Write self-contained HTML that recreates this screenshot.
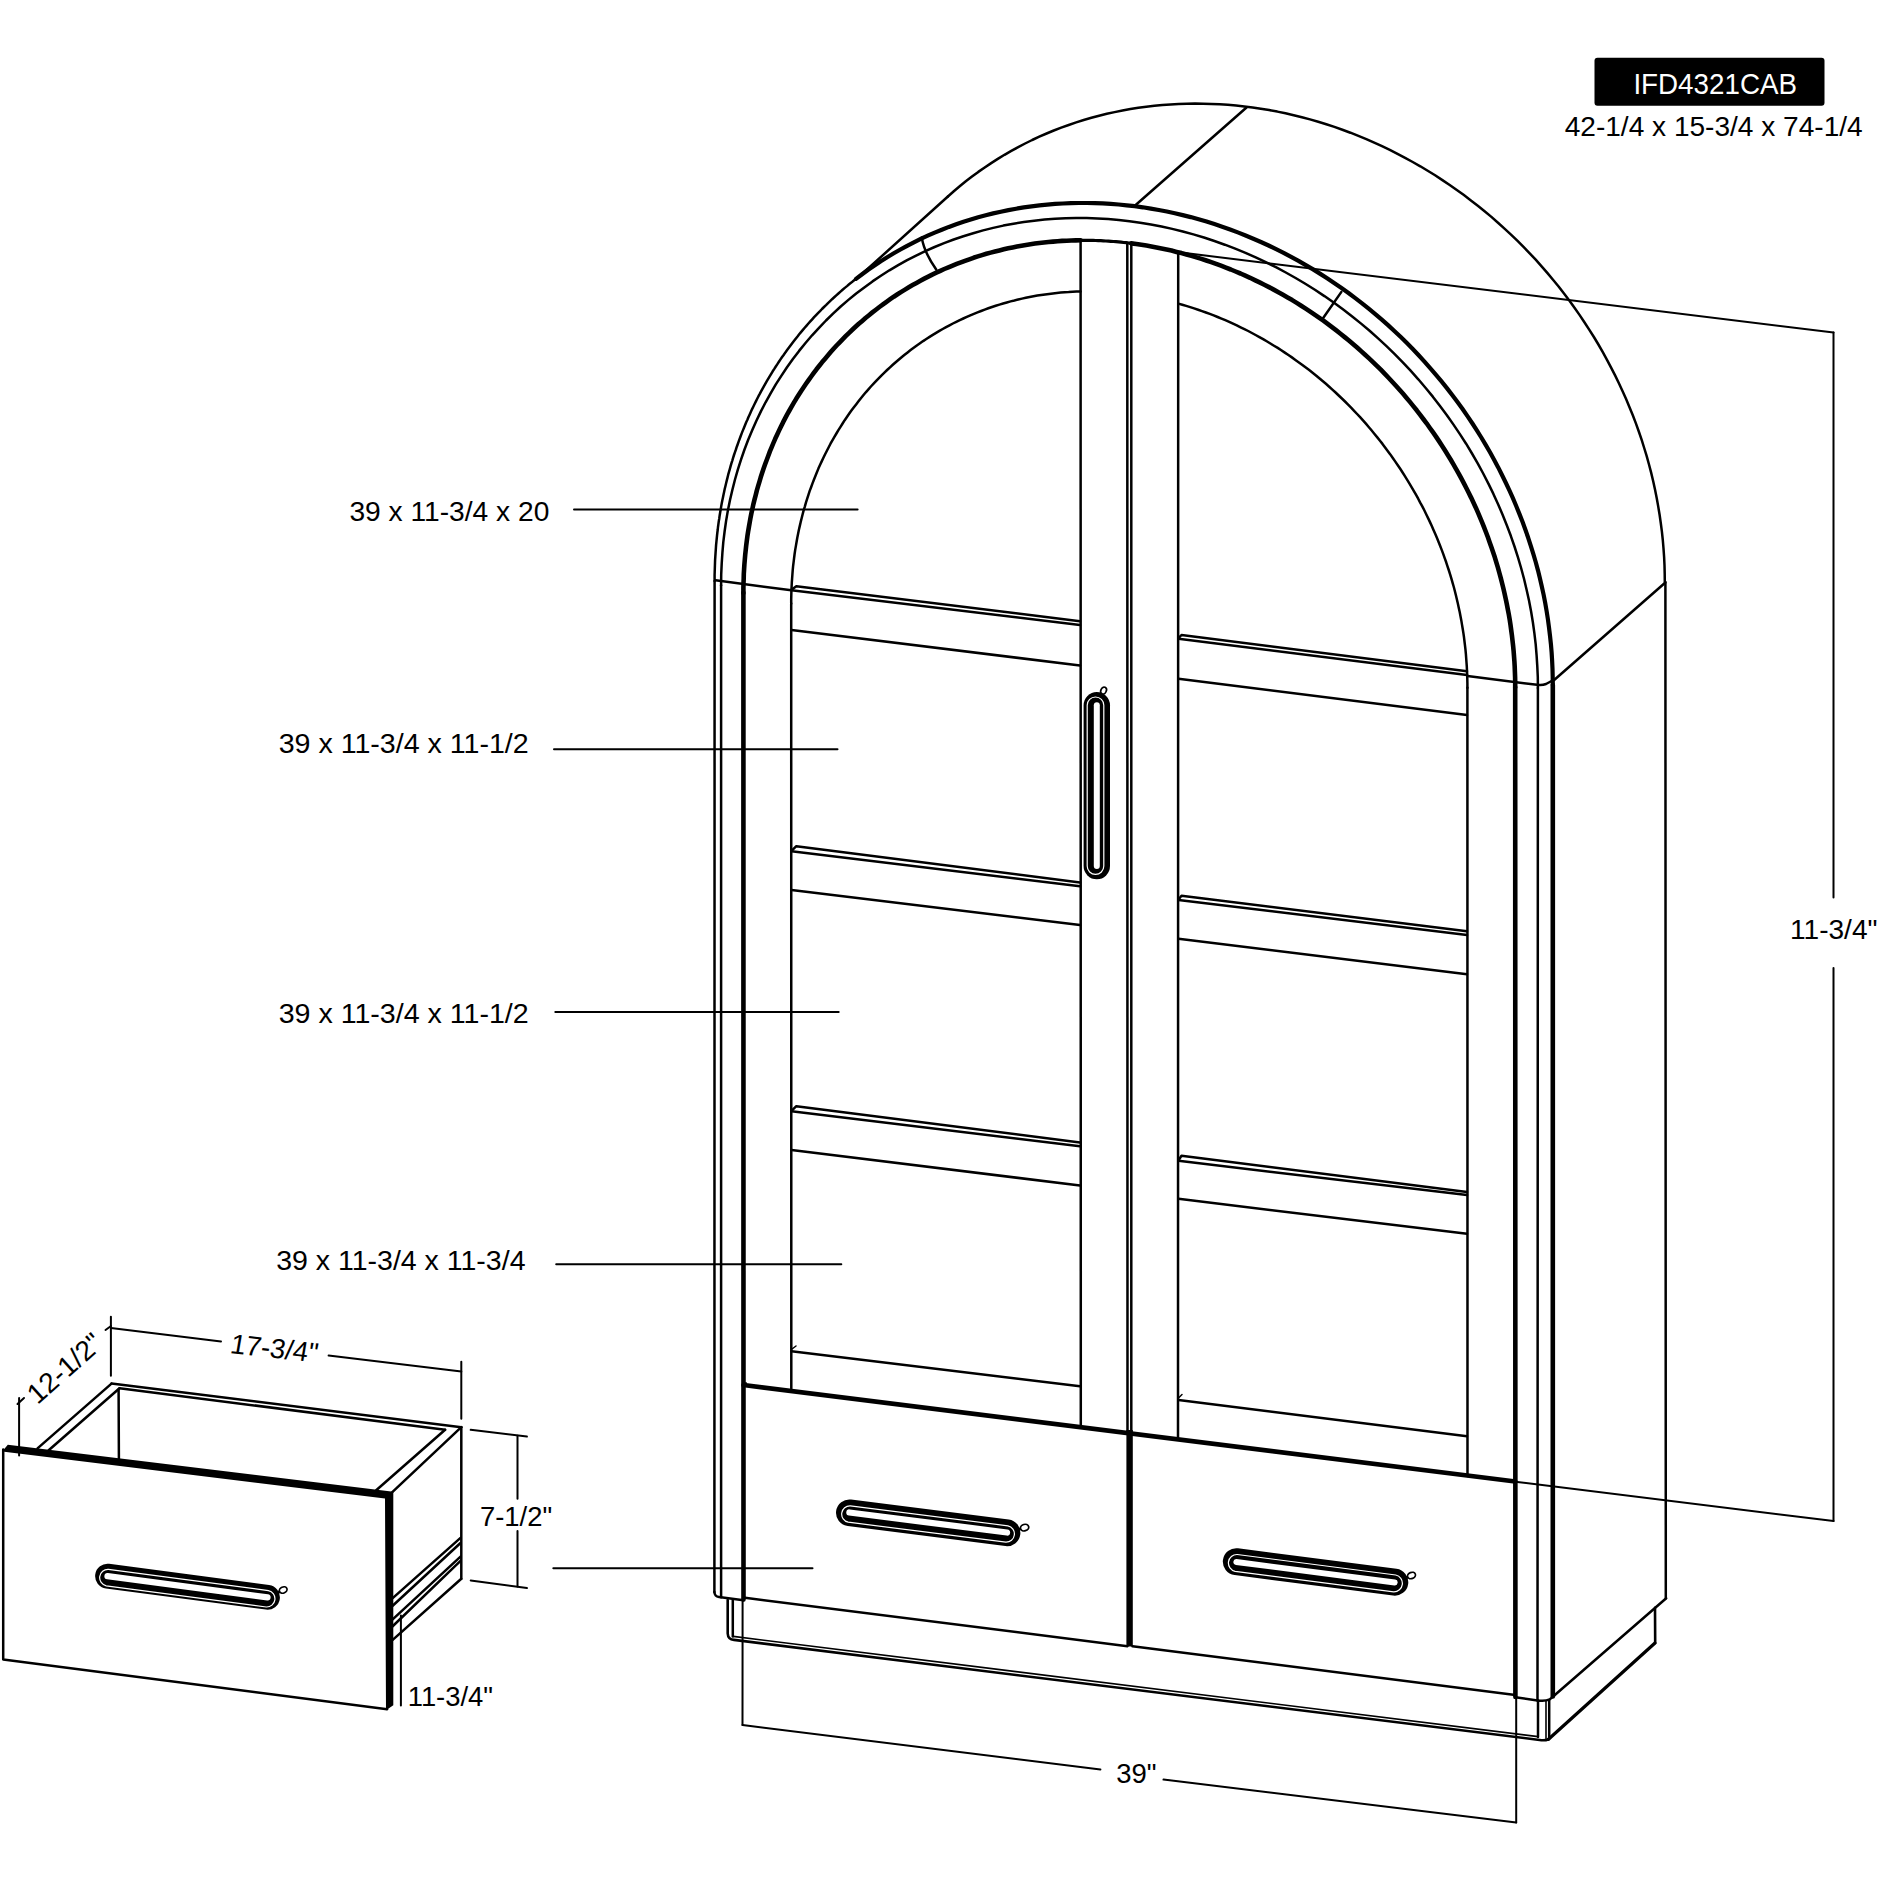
<!DOCTYPE html>
<html><head><meta charset="utf-8"><style>html,body{margin:0;padding:0;background:#fff;width:1880px;height:1880px;overflow:hidden}svg{display:block}text{font-family:"Liberation Sans",sans-serif}</style></head>
<body>
<svg width="1880" height="1880" viewBox="0 0 1880 1880">
<rect width="1880" height="1880" fill="#fff"/>
<g fill="none" stroke="#000" stroke-linecap="round" stroke-linejoin="round">
<path d="M947.9 196.5 L953.8 191.3 L959.7 186.3 L965.8 181.3 L972 176.6 L978.3 171.9 L984.7 167.5 L991.2 163.1 L997.8 158.9 L1004.5 154.8 L1011.3 150.9 L1018.2 147.1 L1025.1 143.5 L1032.2 140 L1039.3 136.7 L1046.6 133.5 L1053.8 130.5 L1061.2 127.7 L1068.7 125 L1076.2 122.4 L1083.7 120 L1091.4 117.8 L1099.1 115.7 L1106.8 113.8 L1114.6 112.1 L1122.5 110.5 L1130.4 109.1 L1138.3 107.8 L1146.3 106.7 L1154.4 105.8 L1162.4 105 L1170.5 104.4 L1178.6 104 L1186.8 103.7 L1195 103.6 L1203.2 103.7 L1211.4 103.9 L1219.6 104.3 L1227.8 104.8 L1236.1 105.5 L1244.3 106.4 L1252.6 107.5 L1260.8 108.7 L1269.1 110.1 L1277.3 111.6 L1285.5 113.3 L1293.7 115.2 L1301.9 117.2 L1310 119.4 L1318.2 121.8 L1326.3 124.3 L1334.4 126.9 L1342.4 129.8 L1350.4 132.7 L1358.4 135.9 L1366.3 139.1 L1374.2 142.6 L1382 146.2 L1389.8 149.9 L1397.5 153.8 L1405.1 157.8 L1412.7 162 L1420.3 166.3 L1427.7 170.8 L1435.1 175.3 L1442.4 180.1 L1449.7 185 L1456.8 190 L1463.9 195.1 L1470.9 200.4 L1477.8 205.8 L1484.6 211.3 L1491.4 216.9 L1498 222.7 L1504.5 228.6 L1511 234.6 L1517.3 240.7 L1523.5 246.9 L1529.7 253.3 L1535.7 259.7 L1541.6 266.3 L1547.3 272.9 L1553 279.7 L1558.6 286.5 L1564 293.5 L1569.3 300.5 L1574.5 307.7 L1579.5 314.9 L1584.4 322.2 L1589.2 329.6 L1593.9 337 L1598.4 344.5 L1602.8 352.2 L1607 359.8 L1611.1 367.6 L1615.1 375.4 L1618.9 383.2 L1622.6 391.2 L1626.1 399.1 L1629.5 407.2 L1632.8 415.2 L1635.9 423.4 L1638.8 431.5 L1641.6 439.7 L1644.2 448 L1646.7 456.2 L1649 464.5 L1651.2 472.9 L1653.2 481.2 L1655 489.6 L1656.7 498 L1658.2 506.4 L1659.6 514.8 L1660.8 523.2 L1661.9 531.6 L1662.8 540 L1663.5 548.4 L1664.1 556.8 L1664.5 565.2 L1664.7 573.6 L1664.8 582" stroke-width="2.5"/>
<line x1="1665.4" y1="582" x2="1665.8" y2="1598.3" stroke-width="2.5"/>
<line x1="860" y1="275.8" x2="947.9" y2="196.5" stroke-width="2.5"/>
<line x1="1135.1" y1="205.5" x2="1246.5" y2="107.5" stroke-width="2.5"/>
<line x1="1553.6" y1="680.5" x2="1665.4" y2="582.5" stroke-width="2.5"/>
<line x1="1553.4" y1="1696.2" x2="1666.2" y2="1598.3" stroke-width="2.5"/>
<path d="M714.6 581.1 L714.6 578 L714.6 575 L714.7 572 L714.8 569 L714.9 565.9 L715 562.9 L715.1 559.9 L715.3 556.9 L715.5 553.9 L715.7 550.9 L715.9 547.9 L716.1 544.9 L716.4 541.9 L716.7 538.9 L717 535.9 L717.3 533 L717.7 530 L718 527 L718.4 524.1 L718.8 521.1 L719.3 518.2 L719.7 515.2 L720.2 512.3 L720.7 509.4 L721.2 506.4 L721.7 503.5 L722.3 500.6 L722.9 497.7 L723.5 494.8 L724.1 491.9 L724.7 489 L725.4 486.2 L726.1 483.3 L726.8 480.4 L727.5 477.6 L728.2 474.7 L729 471.9 L729.8 469.1 L730.6 466.2 L731.4 463.4 L732.3 460.6 L733.1 457.8 L734 455 L734.9 452.3 L735.9 449.5 L736.8 446.7 L737.8 444 L738.8 441.2 L739.8 438.5 L740.8 435.8 L741.8 433.1 L742.9 430.4 L744 427.7 L745.1 425 L746.2 422.3 L747.4 419.7 L748.5 417 L749.7 414.4 L750.9 411.8 L752.1 409.1 L753.4 406.5 L754.6 404 L755.9 401.4 L757.2 398.8 L758.5 396.2 L759.9 393.7 L761.2 391.2 L762.6 388.6 L764 386.1 L765.4 383.6 L766.8 381.2 L768.3 378.7 L769.8 376.2 L771.2 373.8 L772.7 371.3 L774.3 368.9 L775.8 366.5 L777.4 364.1 L778.9 361.8 L780.5 359.4 L782.1 357 L783.8 354.7 L785.4 352.4 L787.1 350.1 L788.8 347.8 L790.5 345.5 L792.2 343.2 L793.9 341 L795.7 338.7 L797.5 336.5 L799.2 334.3 L801 332.1 L802.9 329.9 L804.7 327.8 L806.6 325.6 L808.4 323.5 L810.3 321.4 L812.2 319.3 L814.1 317.2 L816.1 315.1 L818 313.1 L820 311.1 L822 309 L824 307 L826 305.1 L828 303.1 L830.1 301.1 L832.1 299.2 L834.2 297.3 L836.3 295.4 L838.4 293.5 L840.5 291.6 L842.6 289.8 L844.8 287.9 L847 286.1 L849.1 284.3 L851.3 282.6 L853.5 280.8 L855.8 279 L858 277.3" stroke-width="2.5"/>
<path d="M856 278.9 L862.1 274.3 L868.2 269.8 L874.5 265.5 L880.8 261.2 L887.2 257.2 L893.8 253.3 L900.4 249.5 L907.1 245.8 L913.9 242.3 L920.7 238.9 L927.7 235.7 L934.7 232.6 L941.8 229.7 L948.9 226.9 L956.2 224.3 L963.5 221.8 L970.8 219.5 L978.2 217.3 L985.7 215.3 L993.2 213.4 L1000.8 211.7 L1008.4 210.1 L1016.1 208.7 L1023.8 207.4 L1031.6 206.3 L1039.4 205.4 L1047.2 204.6 L1055.1 203.9 L1062.9 203.5 L1070.9 203.1 L1078.8 203 L1086.7 203 L1094.7 203.1 L1102.7 203.4 L1110.7 203.9 L1118.7 204.5 L1126.7 205.3 L1134.7 206.2 L1142.8 207.3 L1150.8 208.6 L1158.8 210 L1166.8 211.5 L1174.8 213.2 L1182.7 215.1 L1190.7 217.1 L1198.6 219.3 L1206.5 221.6 L1214.4 224.1 L1222.2 226.7 L1230.1 229.5 L1237.8 232.4 L1245.6 235.5 L1253.3 238.7 L1260.9 242 L1268.6 245.5 L1276.1 249.2 L1283.6 252.9 L1291.1 256.9 L1298.5 260.9 L1305.8 265.1 L1313.1 269.4 L1320.3 273.9 L1327.5 278.5 L1334.5 283.2 L1341.5 288 L1348.5 293 L1355.3 298.1 L1362.1 303.3 L1368.7 308.7 L1375.3 314.1 L1381.8 319.7 L1388.3 325.4 L1394.6 331.2 L1400.8 337.1 L1406.9 343.1 L1413 349.3 L1418.9 355.5 L1424.7 361.8 L1430.4 368.3 L1436 374.8 L1441.5 381.4 L1446.9 388.1 L1452.2 395 L1457.3 401.8 L1462.4 408.8 L1467.3 415.9 L1472.1 423 L1476.7 430.2 L1481.3 437.5 L1485.7 444.9 L1490 452.3 L1494.1 459.8 L1498.2 467.4 L1502 475 L1505.8 482.7 L1509.4 490.4 L1512.9 498.2 L1516.2 506 L1519.4 513.9 L1522.5 521.8 L1525.4 529.8 L1528.2 537.8 L1530.8 545.8 L1533.3 553.9 L1535.7 562 L1537.9 570.1 L1539.9 578.3 L1541.8 586.4 L1543.6 594.6 L1545.2 602.8 L1546.6 611 L1547.9 619.3 L1549 627.5 L1550 635.7 L1550.9 643.9 L1551.6 652.1 L1552.1 660.4 L1552.5 668.6 L1552.7 676.8 L1552.8 684.9" stroke-width="4.2"/>
<line x1="714.6" y1="581.1" x2="714.4" y2="1592" stroke-width="2.5"/>
<line x1="1552.8" y1="684.9" x2="1552.8" y2="1696.5" stroke-width="4.6"/>
<path d="M721.1 585.3 L721.2 574.4 L721.7 563.6 L722.4 552.8 L723.3 542.1 L724.6 531.5 L726.1 520.9 L727.9 510.4 L730 500 L732.4 489.7 L735 479.5 L737.9 469.4 L741.1 459.4 L744.5 449.5 L748.2 439.8 L752.2 430.2 L756.4 420.7 L760.9 411.4 L765.6 402.3 L770.6 393.3 L775.8 384.4 L781.3 375.8 L787 367.3 L792.9 359 L799.1 350.9 L805.5 343 L812.1 335.3 L819 327.8 L826 320.5 L833.3 313.4 L840.7 306.5 L848.4 299.9 L856.2 293.5 L864.3 287.4 L872.5 281.4 L880.9 275.8 L889.4 270.3 L898.2 265.2 L907.1 260.2 L916.1 255.6 L925.3 251.2 L934.6 247 L944.1 243.1 L953.7 239.5 L963.4 236.2 L973.2 233.2 L983.1 230.4 L993.2 227.9 L1003.3 225.6 L1013.5 223.7 L1023.8 222 L1034.2 220.7 L1044.6 219.6 L1055.1 218.8 L1065.6 218.3 L1076.2 218 L1086.8 218.1 L1097.5 218.4 L1108.1 219.1 L1118.8 220 L1129.5 221.2 L1140.2 222.7 L1150.9 224.5 L1161.5 226.5 L1172.2 228.9 L1182.8 231.5 L1193.4 234.4 L1203.9 237.5 L1214.4 241 L1224.8 244.7 L1235.2 248.7 L1245.5 252.9 L1255.7 257.4 L1265.8 262.2 L1275.9 267.2 L1285.8 272.5 L1295.6 278 L1305.3 283.8 L1314.9 289.8 L1324.4 296.1 L1333.7 302.6 L1342.9 309.3 L1351.9 316.2 L1360.8 323.4 L1369.6 330.8 L1378.1 338.4 L1386.5 346.2 L1394.7 354.1 L1402.8 362.3 L1410.6 370.7 L1418.3 379.3 L1425.7 388 L1433 396.9 L1440 406 L1446.9 415.2 L1453.5 424.6 L1459.9 434.1 L1466.1 443.7 L1472 453.5 L1477.7 463.4 L1483.2 473.5 L1488.4 483.6 L1493.4 493.9 L1498.1 504.2 L1502.6 514.7 L1506.8 525.2 L1510.8 535.8 L1514.5 546.5 L1517.9 557.2 L1521.1 568 L1524 578.8 L1526.6 589.7 L1529 600.6 L1531.1 611.5 L1532.9 622.5 L1534.4 633.4 L1535.7 644.4 L1536.6 655.4 L1537.3 666.3 L1537.8 677.2 L1537.9 688.1" stroke-width="2.5"/>
<line x1="721.1" y1="585.3" x2="721.1" y2="1597.2" stroke-width="2.5"/>
<line x1="1537.9" y1="688.1" x2="1537.5" y2="1700.4" stroke-width="2.5"/>
<path d="M743.4 592.9 L743.4 588.1 L743.5 583.3 L743.7 578.6 L743.8 573.8 L744.1 569.1 L744.4 564.4 L744.8 559.6 L745.2 554.9 L745.7 550.2 L746.2 545.6 L746.8 540.9 L747.4 536.2 L748.1 531.6 L748.9 527 L749.7 522.4 L750.5 517.8 L751.4 513.2 L752.4 508.7 L753.4 504.1 L754.5 499.6 L755.7 495.1 L756.8 490.6 L758.1 486.2 L759.4 481.8 L760.7 477.3 L762.1 473 L763.6 468.6 L765.1 464.3 L766.7 460 L768.3 455.7 L769.9 451.4 L771.7 447.2 L773.4 443 L775.2 438.8 L777.1 434.7 L779 430.6 L781 426.5 L783 422.4 L785.1 418.4 L787.2 414.4 L789.4 410.5 L791.6 406.6 L793.9 402.7 L796.2 398.8 L798.6 395 L801 391.2 L803.5 387.5 L806 383.8 L808.6 380.1 L811.2 376.5 L813.8 372.9 L816.5 369.3 L819.3 365.8 L822 362.3 L824.9 358.9 L827.8 355.5 L830.7 352.1 L833.6 348.8 L836.6 345.5 L839.7 342.3 L842.8 339.1 L845.9 335.9 L849.1 332.8 L852.3 329.8 L855.5 326.8 L858.8 323.8 L862.2 320.9 L865.5 318 L869 315.2 L872.4 312.4 L875.9 309.7 L879.4 307 L883 304.4 L886.5 301.8 L890.2 299.2 L893.8 296.7 L897.5 294.3 L901.3 291.9 L905 289.6 L908.8 287.3 L912.6 285.1 L916.5 282.9 L920.4 280.7 L924.3 278.6 L928.3 276.6 L932.2 274.6 L936.3 272.7 L940.3 270.8 L944.3 269 L948.4 267.3 L952.6 265.6 L956.7 263.9 L960.9 262.3 L965 260.8 L969.3 259.3 L973.5 257.8 L977.8 256.4 L982 255.1 L986.3 253.8 L990.7 252.6 L995 251.5 L999.4 250.4 L1003.8 249.3 L1008.2 248.3 L1012.6 247.4 L1017 246.5 L1021.5 245.7 L1025.9 245 L1030.4 244.3 L1034.9 243.6 L1039.4 243 L1043.9 242.5 L1048.5 242 L1053 241.6 L1057.6 241.2 L1062.1 240.9 L1066.7 240.7 L1071.3 240.5 L1075.9 240.4 L1080.5 240.3" stroke-width="4.6"/>
<path d="M1131.3 243.4 L1136.3 244 L1141.4 244.8 L1146.4 245.6 L1151.4 246.5 L1156.5 247.4 L1161.5 248.4 L1166.5 249.5 L1171.5 250.6 L1176.5 251.9 L1181.5 253.1 L1186.5 254.5 L1191.4 255.9 L1196.4 257.4 L1201.4 258.9 L1206.3 260.5 L1211.2 262.2 L1216.1 263.9 L1221 265.7 L1225.9 267.6 L1230.8 269.5 L1235.6 271.5 L1240.5 273.5 L1245.3 275.6 L1250.1 277.8 L1254.8 280.1 L1259.6 282.4 L1264.3 284.7 L1269 287.1 L1273.7 289.6 L1278.4 292.2 L1283 294.8 L1287.6 297.4 L1292.2 300.1 L1296.7 302.9 L1301.2 305.7 L1305.7 308.6 L1310.2 311.6 L1314.6 314.6 L1319 317.6 L1323.4 320.7 L1327.7 323.9 L1332 327.1 L1336.3 330.4 L1340.5 333.7 L1344.7 337.1 L1348.9 340.5 L1353 344 L1357.1 347.5 L1361.1 351.1 L1365.1 354.7 L1369.1 358.4 L1373 362.1 L1376.9 365.9 L1380.8 369.7 L1384.6 373.6 L1388.3 377.5 L1392 381.5 L1395.7 385.5 L1399.3 389.5 L1402.9 393.6 L1406.4 397.7 L1409.9 401.9 L1413.3 406.1 L1416.7 410.3 L1420 414.6 L1423.3 419 L1426.6 423.3 L1429.7 427.7 L1432.9 432.2 L1436 436.6 L1439 441.1 L1442 445.7 L1444.9 450.3 L1447.8 454.9 L1450.6 459.5 L1453.3 464.2 L1456 468.9 L1458.7 473.6 L1461.3 478.4 L1463.8 483.1 L1466.3 488 L1468.7 492.8 L1471.1 497.6 L1473.4 502.5 L1475.7 507.4 L1477.9 512.4 L1480 517.3 L1482.1 522.3 L1484.1 527.3 L1486 532.3 L1487.9 537.3 L1489.7 542.4 L1491.5 547.5 L1493.2 552.5 L1494.9 557.6 L1496.4 562.7 L1498 567.9 L1499.4 573 L1500.8 578.2 L1502.1 583.3 L1503.4 588.5 L1504.6 593.7 L1505.7 598.8 L1506.8 604 L1507.8 609.2 L1508.8 614.4 L1509.7 619.6 L1510.5 624.9 L1511.2 630.1 L1511.9 635.3 L1512.5 640.5 L1513.1 645.7 L1513.6 650.9 L1514 656.1 L1514.4 661.4 L1514.7 666.6 L1514.9 671.8 L1515.1 677 L1515.2 682.2 L1515.2 687.3" stroke-width="4.6"/>
<path d="M1080.5 240.3 L1083 240.3 L1085.6 240.3 L1088.1 240.3 L1090.6 240.4 L1093.2 240.4 L1095.7 240.5 L1098.2 240.6 L1100.8 240.7 L1103.3 240.8 L1105.8 241 L1108.4 241.1 L1110.9 241.3 L1113.5 241.5 L1116 241.7 L1118.6 241.9 L1121.1 242.2 L1123.7 242.5 L1126.2 242.7 L1128.8 243 L1131.3 243.4" stroke-width="3.2"/>
<line x1="743.4" y1="592.9" x2="743.5" y2="1599.5" stroke-width="4.6"/>
<line x1="1515.2" y1="687.3" x2="1515.4" y2="1697" stroke-width="4.6"/>
<path d="M791.2 603.5 L791.2 599.4 L791.3 595.2 L791.4 591 L791.6 586.9 L791.8 582.7 L792.1 578.6 L792.4 574.5 L792.7 570.3 L793.1 566.2 L793.6 562.1 L794.1 558 L794.6 554 L795.2 549.9 L795.9 545.9 L796.6 541.8 L797.3 537.8 L798.1 533.8 L798.9 529.8 L799.8 525.9 L800.7 521.9 L801.7 518 L802.7 514 L803.7 510.1 L804.9 506.3 L806 502.4 L807.2 498.6 L808.5 494.7 L809.7 490.9 L811.1 487.2 L812.5 483.4 L813.9 479.7 L815.4 476 L816.9 472.3 L818.4 468.6 L820 465 L821.7 461.4 L823.4 457.8 L825.1 454.2 L826.9 450.7 L828.7 447.2 L830.5 443.7 L832.4 440.3 L834.4 436.9 L836.4 433.5 L838.4 430.1 L840.5 426.8 L842.6 423.5 L844.7 420.2 L846.9 417 L849.1 413.8 L851.4 410.6 L853.7 407.5 L856.1 404.4 L858.5 401.3 L860.9 398.3 L863.3 395.3 L865.8 392.3 L868.4 389.4 L870.9 386.5 L873.6 383.7 L876.2 380.9 L878.9 378.1 L881.6 375.3 L884.4 372.6 L887.1 370 L890 367.3 L892.8 364.8 L895.7 362.2 L898.6 359.7 L901.6 357.2 L904.6 354.8 L907.6 352.4 L910.6 350.1 L913.7 347.8 L916.8 345.5 L920 343.3 L923.1 341.1 L926.3 339 L929.6 336.9 L932.8 334.9 L936.1 332.9 L939.4 330.9 L942.7 329 L946.1 327.1 L949.5 325.3 L952.9 323.5 L956.3 321.8 L959.8 320.1 L963.3 318.5 L966.8 316.9 L970.3 315.3 L973.9 313.8 L977.5 312.4 L981.1 311 L984.7 309.6 L988.3 308.3 L992 307 L995.7 305.8 L999.4 304.6 L1003.1 303.5 L1006.8 302.5 L1010.6 301.4 L1014.4 300.5 L1018.2 299.5 L1022 298.6 L1025.8 297.8 L1029.6 297 L1033.5 296.3 L1037.3 295.6 L1041.2 295 L1045.1 294.4 L1049 293.9 L1052.9 293.4 L1056.8 293 L1060.7 292.6 L1064.7 292.2 L1068.6 292 L1072.6 291.7 L1076.5 291.5 L1080.5 291.4" stroke-width="2.5"/>
<path d="M1178.3 303.6 L1182.3 304.7 L1186.2 305.9 L1190.2 307.1 L1194.1 308.4 L1198.1 309.7 L1202 311.1 L1205.9 312.5 L1209.8 313.9 L1213.7 315.4 L1217.6 317 L1221.5 318.6 L1225.3 320.2 L1229.2 321.9 L1233 323.7 L1236.8 325.4 L1240.6 327.3 L1244.4 329.1 L1248.2 331 L1251.9 333 L1255.6 335 L1259.4 337.1 L1263.1 339.1 L1266.7 341.3 L1270.4 343.5 L1274 345.7 L1277.7 347.9 L1281.3 350.2 L1284.8 352.6 L1288.4 355 L1291.9 357.4 L1295.4 359.9 L1298.9 362.4 L1302.4 364.9 L1305.8 367.5 L1309.2 370.1 L1312.6 372.8 L1316 375.5 L1319.3 378.3 L1322.6 381 L1325.9 383.8 L1329.2 386.7 L1332.4 389.6 L1335.6 392.5 L1338.7 395.5 L1341.9 398.5 L1345 401.5 L1348.1 404.6 L1351.1 407.7 L1354.1 410.8 L1357.1 414 L1360.1 417.2 L1363 420.4 L1365.9 423.7 L1368.7 427 L1371.5 430.3 L1374.3 433.7 L1377.1 437.1 L1379.8 440.5 L1382.5 443.9 L1385.1 447.4 L1387.7 450.9 L1390.3 454.4 L1392.8 458 L1395.3 461.6 L1397.8 465.2 L1400.2 468.8 L1402.6 472.5 L1404.9 476.2 L1407.2 479.9 L1409.5 483.6 L1411.7 487.3 L1413.9 491.1 L1416.1 494.9 L1418.2 498.7 L1420.2 502.6 L1422.3 506.4 L1424.3 510.3 L1426.2 514.2 L1428.1 518.1 L1430 522.1 L1431.8 526 L1433.5 530 L1435.3 534 L1437 538 L1438.6 542 L1440.2 546 L1441.8 550.1 L1443.3 554.1 L1444.7 558.2 L1446.2 562.3 L1447.5 566.4 L1448.9 570.5 L1450.2 574.6 L1451.4 578.7 L1452.6 582.9 L1453.8 587 L1454.9 591.2 L1455.9 595.3 L1456.9 599.5 L1457.9 603.7 L1458.8 607.9 L1459.7 612.1 L1460.5 616.2 L1461.3 620.4 L1462 624.6 L1462.7 628.8 L1463.4 633.1 L1464 637.3 L1464.5 641.5 L1465 645.7 L1465.5 649.9 L1465.9 654.1 L1466.2 658.3 L1466.5 662.5 L1466.8 666.7 L1467 670.9 L1467.2 675.1 L1467.3 679.3 L1467.4 683.5 L1467.4 687.7" stroke-width="2.5"/>
<line x1="791.2" y1="603.5" x2="791.3" y2="1388.5" stroke-width="2.5"/>
<line x1="1467.4" y1="687.7" x2="1467.5" y2="1476" stroke-width="2.5"/>
<path d="M921.8 237.6 Q924 252 936.2 269.5" stroke-width="2.5" />
<line x1="1341.4" y1="291.9" x2="1323" y2="318.2" stroke-width="2.5"/>
<path d="M715.5 580.2 L791.3 590.3" stroke-width="2.5"/>
<path d="M1467.5 676 L1537 684.8 Q1542 685.6 1546 684 L1552.5 680.5" stroke-width="2.5" />
<line x1="1080.6" y1="240.3" x2="1080.8" y2="1426.6" stroke-width="2.5"/>
<line x1="1127.3" y1="242.9" x2="1127.5" y2="1431.8" stroke-width="2.5"/>
<line x1="1131.3" y1="243.4" x2="1131.3" y2="1432.2" stroke-width="2.5"/>
<line x1="1178.2" y1="252.3" x2="1178" y2="1437.3" stroke-width="2.5"/>
<line x1="1129.6" y1="1430" x2="1129.6" y2="1646.5" stroke-width="6.4" stroke-linecap="butt"/>
<path d="M791.5 589.8 L796.3 586.2 L1080 621.2" stroke-width="2.5" />
<line x1="791.5" y1="590.3" x2="1080" y2="625" stroke-width="2.5"/>
<line x1="791.5" y1="630" x2="1080" y2="665.5" stroke-width="2.5"/>
<path d="M791.5 850.8 L796.3 846.2 L1080 882.5" stroke-width="2.5" />
<line x1="791.5" y1="851.2" x2="1080" y2="886.2" stroke-width="2.5"/>
<line x1="791.5" y1="890" x2="1080" y2="925" stroke-width="2.5"/>
<path d="M791.5 1110.8 L796.3 1106.2 L1080 1142.5" stroke-width="2.5" />
<line x1="791.5" y1="1111.2" x2="1080" y2="1146.2" stroke-width="2.5"/>
<line x1="791.5" y1="1150" x2="1080" y2="1185.5" stroke-width="2.5"/>
<line x1="791.5" y1="1351.2" x2="1080" y2="1386.2" stroke-width="2.5"/>
<line x1="792" y1="1349" x2="796" y2="1346" stroke-width="1.5"/>
<path d="M1178.5 638.2 L1181.5 635 L1467 671.2" stroke-width="2.5" />
<line x1="1178.5" y1="638.8" x2="1467" y2="675" stroke-width="2.5"/>
<line x1="1178.5" y1="678.8" x2="1467" y2="715" stroke-width="2.5"/>
<path d="M1178.5 899.5 L1181.5 895.8 L1467 931.2" stroke-width="2.5" />
<line x1="1178.5" y1="900" x2="1467" y2="935" stroke-width="2.5"/>
<line x1="1178.5" y1="938.8" x2="1467" y2="974.2" stroke-width="2.5"/>
<path d="M1178.5 1160.2 L1181.5 1155.8 L1467 1192" stroke-width="2.5" />
<line x1="1178.5" y1="1160.8" x2="1467" y2="1195" stroke-width="2.5"/>
<line x1="1178.5" y1="1198.8" x2="1467" y2="1233.8" stroke-width="2.5"/>
<line x1="1178.5" y1="1400" x2="1467" y2="1436.2" stroke-width="2.5"/>
<line x1="1179" y1="1397.5" x2="1182" y2="1394.5" stroke-width="1.5"/>
<line x1="743.5" y1="1385" x2="1515.3" y2="1481.5" stroke-width="4.6"/>
<line x1="743.5" y1="1385" x2="746" y2="1383" stroke-width="2"/>
<line x1="745" y1="1597.8" x2="1127.5" y2="1646.2" stroke-width="2.5"/>
<line x1="1132.5" y1="1646.3" x2="1515.3" y2="1695" stroke-width="2.5"/>
<path d="M714.4 1592 Q714.6 1596.5 719 1597 L743.5 1600.3" stroke-width="2.5" />
<path d="M1515.4 1697.2 L1537.4 1700.4 Q1545 1701.5 1549.7 1699.4 L1553.4 1696.2" stroke-width="2.5" />
<path d="M727.7 1600 L727.7 1633.5 Q728 1639.5 734 1639.9 L1539.6 1740 Q1545 1740.8 1548.5 1739.2" stroke-width="2.6" />
<line x1="732.8" y1="1600.5" x2="732.8" y2="1636.4" stroke-width="2.5"/>
<line x1="733.2" y1="1636.4" x2="1538" y2="1736.6" stroke-width="1.6"/>
<line x1="1538" y1="1700.5" x2="1538" y2="1737" stroke-width="2.5"/>
<line x1="1546" y1="1700.8" x2="1546" y2="1738.5" stroke-width="1.6"/>
<line x1="1549.2" y1="1700" x2="1549.2" y2="1738.5" stroke-width="2.5"/>
<line x1="1548.5" y1="1739.2" x2="1655" y2="1643" stroke-width="3.2"/>
<line x1="1655" y1="1607.9" x2="1655.2" y2="1643" stroke-width="2.6"/>
<path d="M1083.6 705.3 L1083.6 866.1 A13.2 13.2 0 0 0 1110 866.1 L1110 705.3 A13.2 13.2 0 0 0 1083.6 705.3 Z" fill="#000" stroke="none"/>
<path d="M1087.2 705.3 L1087.2 866.1 A8.3 8.3 0 0 0 1103.8 866.1 L1103.8 705.3 A8.3 8.3 0 0 0 1087.2 705.3 Z" stroke="#fff" stroke-width="1.2"/>
<path d="M1093.8 705.3 L1093.8 866.1 A3 3 0 0 0 1099.8 866.1 L1099.8 705.3 A3 3 0 0 0 1093.8 705.3 Z" fill="#fff" stroke="none"/>
<line x1="1101.7" y1="694.7" x2="1103.6" y2="690.6" stroke-width="2.6"/>
<ellipse cx="1103.6" cy="690.6" rx="3.6" ry="2.7" stroke-width="1.7" fill="#fff" transform="rotate(-65.2 1103.6 690.6)"/>
<path d="M847.7 1526.1 L1005.3 1546.1 A13.4 13.4 0 0 0 1008.7 1519.5 L851.1 1499.5 A13.4 13.4 0 0 0 847.7 1526.1 Z" fill="#000" stroke="none"/>
<path d="M848.2 1522.2 L1005.8 1542.2 A8.3 8.3 0 0 0 1007.9 1525.8 L850.3 1505.8 A8.3 8.3 0 0 0 848.2 1522.2 Z" stroke="#fff" stroke-width="1.2"/>
<path d="M849 1515.6 L1006.6 1535.6 A3.1 3.1 0 0 0 1007.4 1529.4 L849.8 1509.4 A3.1 3.1 0 0 0 849 1515.6 Z" fill="#fff" stroke="none"/>
<line x1="1018.5" y1="1529.4" x2="1024.6" y2="1527.6" stroke-width="2.6"/>
<ellipse cx="1024.6" cy="1527.6" rx="4.2" ry="3.2" stroke-width="1.7" fill="#fff" transform="rotate(-16.5 1024.6 1527.6)"/>
<path d="M1234.6 1575.1 L1393.1 1595.6 A13.5 13.5 0 0 0 1396.5 1568.8 L1238 1548.3 A13.5 13.5 0 0 0 1234.6 1575.1 Z" fill="#000" stroke="none"/>
<path d="M1235.1 1571.3 L1393.6 1591.8 A8.5 8.5 0 0 0 1395.7 1575 L1237.2 1554.5 A8.5 8.5 0 0 0 1235.1 1571.3 Z" stroke="#fff" stroke-width="1.2"/>
<path d="M1235.9 1564.9 L1394.4 1585.4 A2.9 2.9 0 0 0 1395.1 1579.6 L1236.6 1559.1 A2.9 2.9 0 0 0 1235.9 1564.9 Z" fill="#fff" stroke="none"/>
<line x1="1405.9" y1="1577.7" x2="1411.5" y2="1575.5" stroke-width="2.6"/>
<ellipse cx="1411.5" cy="1575.5" rx="4.1" ry="3.1" stroke-width="1.7" fill="#fff" transform="rotate(-21.9 1411.5 1575.5)"/>
<line x1="1179" y1="252.3" x2="1833.5" y2="332.5" stroke-width="2.0"/>
<line x1="1833.5" y1="332.5" x2="1833.5" y2="897.5" stroke-width="2.0"/>
<line x1="1833.5" y1="968" x2="1833.5" y2="1521.1" stroke-width="2.0"/>
<line x1="1515.2" y1="1481.7" x2="1833.5" y2="1521.1" stroke-width="2.0"/>
<line x1="742.6" y1="1600.6" x2="742.5" y2="1725" stroke-width="2.0"/>
<line x1="742.5" y1="1725" x2="1100.4" y2="1769.4" stroke-width="2.0"/>
<line x1="1163.5" y1="1779.6" x2="1516.2" y2="1822.5" stroke-width="2.0"/>
<line x1="1516.2" y1="1697" x2="1516.2" y2="1822.5" stroke-width="2.0"/>
<line x1="574" y1="509.6" x2="857.6" y2="509.6" stroke-width="2.0"/>
<line x1="554" y1="749.2" x2="837.5" y2="749.2" stroke-width="2.0"/>
<line x1="555.3" y1="1012" x2="838.7" y2="1012" stroke-width="2.0"/>
<line x1="556.2" y1="1264.2" x2="841.3" y2="1264.2" stroke-width="2.0"/>
<line x1="553.3" y1="1568.2" x2="812.5" y2="1568.2" stroke-width="2.0"/>
<path d="M3.2 1449.5 L3.2 1659.5 L387.2 1709.2" stroke-width="2.5" />
<path d="M2.2 1451.4 L7.8 1444.8 L393.3 1491.8 L393.3 1705.2 L386 1710.2 L385 1498.6 Z" fill="#000" stroke="none"/>
<line x1="37.5" y1="1448.4" x2="111.5" y2="1383.6" stroke-width="2.5"/>
<line x1="48.7" y1="1450.2" x2="119.5" y2="1388.2" stroke-width="2.5"/>
<line x1="111.5" y1="1383.6" x2="461.3" y2="1427.2" stroke-width="2.5"/>
<line x1="119.5" y1="1388.2" x2="445.1" y2="1429.8" stroke-width="2.5"/>
<line x1="118.6" y1="1389.4" x2="118.9" y2="1458.8" stroke-width="2.5"/>
<line x1="376.2" y1="1490.2" x2="445.1" y2="1429.8" stroke-width="2.5"/>
<line x1="391.5" y1="1492.8" x2="461.3" y2="1427.2" stroke-width="2.5"/>
<line x1="461.3" y1="1427.2" x2="461.3" y2="1578.8" stroke-width="2.5"/>
<line x1="461.3" y1="1578.8" x2="392.4" y2="1640.1" stroke-width="2.5"/>
<line x1="460.5" y1="1537.9" x2="392.4" y2="1598.4" stroke-width="2.5"/>
<line x1="460.5" y1="1543" x2="392.4" y2="1606" stroke-width="2.5"/>
<line x1="460.5" y1="1556.6" x2="392.4" y2="1619.6" stroke-width="2.5"/>
<line x1="460.5" y1="1560.9" x2="392.4" y2="1626.5" stroke-width="2.5"/>
<path d="M105.9 1588.4 L265.9 1609.6 A12.4 12.4 0 0 0 269.1 1585 L109.1 1563.8 A12.4 12.4 0 0 0 105.9 1588.4 Z" fill="#000" stroke="none"/>
<path d="M106.2 1585.8 L266.2 1607 A8.3 8.3 0 0 0 268.4 1590.6 L108.4 1569.4 A8.3 8.3 0 0 0 106.2 1585.8 Z" stroke="#fff" stroke-width="1.2"/>
<path d="M107.1 1579.3 L267.1 1600.5 A3.1 3.1 0 0 0 267.9 1594.3 L107.9 1573.1 A3.1 3.1 0 0 0 107.1 1579.3 Z" fill="#fff" stroke="none"/>
<line x1="277.4" y1="1592.7" x2="283.2" y2="1590" stroke-width="2.6"/>
<ellipse cx="283.2" cy="1590" rx="4.0" ry="3" stroke-width="1.7" fill="#fff" transform="rotate(-24.9 283.2 1590)"/>
<line x1="19.1" y1="1398.1" x2="19.1" y2="1455.6" stroke-width="2.0"/>
<line x1="17.5" y1="1404" x2="24" y2="1398" stroke-width="2.0"/>
<line x1="110.9" y1="1316.8" x2="110.9" y2="1375.8" stroke-width="2.0"/>
<line x1="105.5" y1="1330" x2="111" y2="1326" stroke-width="2.0"/>
<line x1="110.9" y1="1327.9" x2="221" y2="1341.5" stroke-width="2.0"/>
<line x1="328.6" y1="1355.5" x2="461.3" y2="1371.6" stroke-width="2.0"/>
<line x1="461.3" y1="1361.7" x2="461.3" y2="1418.8" stroke-width="2.0"/>
<line x1="470.7" y1="1429.8" x2="526.9" y2="1436.6" stroke-width="2.0"/>
<line x1="470.7" y1="1580.5" x2="526.9" y2="1588.1" stroke-width="2.0"/>
<line x1="517.5" y1="1435.8" x2="517.5" y2="1498.8" stroke-width="2.0"/>
<line x1="517.5" y1="1531.1" x2="517.5" y2="1586.4" stroke-width="2.0"/>
<line x1="400.9" y1="1615.4" x2="400.9" y2="1705.6" stroke-width="2.0"/>
<rect x="1594.5" y="57.8" width="230" height="48" rx="3" fill="#000" stroke="none"/>
</g>
<g font-family="Liberation Sans, sans-serif">
<text x="1633.4" y="93.6" font-size="29" text-anchor="start" fill="#fff" textLength="163.6" lengthAdjust="spacingAndGlyphs">IFD4321CAB</text>
<text x="1564.7" y="136.4" font-size="27.4" text-anchor="start" fill="#000" textLength="298" lengthAdjust="spacingAndGlyphs">42-1/4 x 15-3/4 x 74-1/4</text>
<text x="349.4" y="520.9" font-size="27.4" text-anchor="start" fill="#000" textLength="200" lengthAdjust="spacingAndGlyphs">39 x 11-3/4 x 20</text>
<text x="278.7" y="752.9" font-size="27.4" text-anchor="start" fill="#000" textLength="250" lengthAdjust="spacingAndGlyphs">39 x 11-3/4 x 11-1/2</text>
<text x="278.7" y="1022.9" font-size="27.4" text-anchor="start" fill="#000" textLength="250" lengthAdjust="spacingAndGlyphs">39 x 11-3/4 x 11-1/2</text>
<text x="276.2" y="1269.9" font-size="27.4" text-anchor="start" fill="#000" textLength="249.3" lengthAdjust="spacingAndGlyphs">39 x 11-3/4 x 11-3/4</text>
<text x="1790" y="938.8" font-size="27" text-anchor="start" fill="#000" textLength="87.5" lengthAdjust="spacingAndGlyphs">11-3/4&quot;</text>
<text x="1116.2" y="1782.5" font-size="27.5" text-anchor="start" fill="#000" >39&quot;</text>
<text x="480" y="1526.4" font-size="27.4" text-anchor="start" fill="#000" >7-1/2&quot;</text>
<text x="407.7" y="1705.6" font-size="27.4" text-anchor="start" fill="#000" >11-3/4&quot;</text>
<text x="0" y="0" font-size="27.4" text-anchor="start" fill="#000" transform="matrix(1 0.11 -0.17 1 229.2 1353.0)">17-3/4&quot;</text>
<text x="0" y="0" font-size="27.4" text-anchor="start" fill="#000" transform="translate(37.6 1405.2) rotate(-41.7) scale(1.025)">12-1/2&quot;</text>
</g>
</svg>
</body></html>
